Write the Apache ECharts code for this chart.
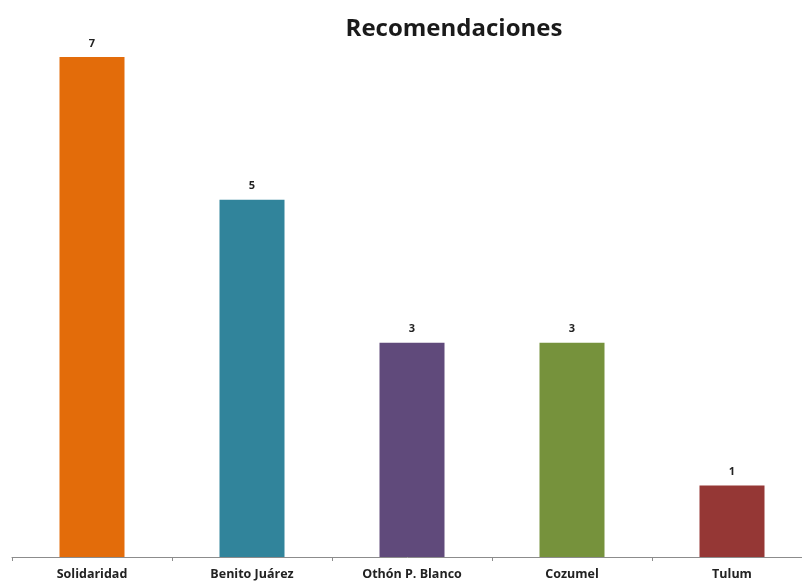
<!DOCTYPE html>
<html><head><meta charset="utf-8">
<script src="https://cdn.jsdelivr.net/npm/echarts@6/dist/echarts.min.js"></script>
<style>html,body{margin:0;padding:0;background:#fff}#c{width:802px;height:587px}</style>
</head><body><div id="c"></div>
<script>
const categories = ['Solidaridad', 'Benito Juárez', 'Othón P. Blanco', 'Cozumel', 'Tulum'];
const values = [7, 5, 3, 3, 1];
const colors = ['#E36C0A', '#31849B', '#604A7B', '#76923C', '#953735'];
const titleText = 'Recomendaciones';

const chart = echarts.init(document.getElementById('c'));
chart.setOption({
  animation: false,
  backgroundColor: '#fff',
  title: {
    text: titleText, left: 449, top: 12, textAlign: 'center',
    textStyle: { fontFamily: 'Open Sans', fontWeight: 'bold', fontSize: 24, color: '#1a1a1a' }
  },
  grid: { left: 12, width: 800, top: 57, bottom: 30, containLabel: false, outerBoundsMode: 'none' },
  xAxis: {
    type: 'category', data: categories,
    axisLine: { lineStyle: { color: '#8c8c8c', width: 1 } },
    axisTick: { show: true, length: 4, lineStyle: { color: '#8c8c8c' } },
    axisLabel: { interval: 0, margin: 11, fontFamily: 'Open Sans', fontWeight: 'bold', fontSize: 12.5, color: '#222' }
  },
  yAxis: { type: 'value', min: 0, max: 7, show: false, splitLine: { show: false } },
  series: [{
    type: 'bar', barWidth: 65,
    data: values.map((v, i) => ({ value: v, itemStyle: { color: colors[i] } })),
    label: { show: true, position: 'top', distance: 8, fontFamily: 'Open Sans', fontWeight: 'bold', fontSize: 11, color: '#222' }
  }]
});
</script></body></html>
